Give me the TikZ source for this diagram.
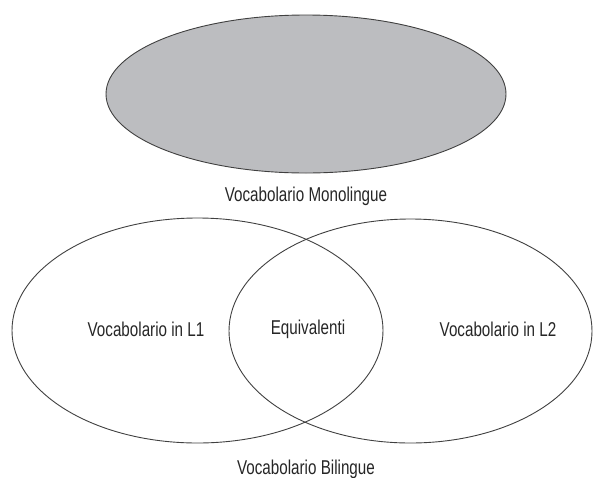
\documentclass[tikz,border=0pt]{standalone}
\usepackage{fontspec}
\setsansfont{Liberation Sans}
\usetikzlibrary{shapes.geometric, positioning}
\definecolor{monogray}{RGB}{188,189,192}

\begin{document}
\begin{tikzpicture}
	[x=1pt, y=-1pt,
	 lbl/.style={font=\sffamily\fontsize{20}{22}\selectfont, xscale=0.76, text=black!85},
	 set/.style={ellipse, draw=black!75, line width=0.9pt, inner sep=0pt}]
   \useasboundingbox (0,0) rectangle (593,477);
   \node[set, fill=monogray, minimum width=400pt, minimum height=158pt] (mono) at (306,94) {};
   \node[lbl] (mono_lbl) at (306,196) {Vocabolario Monolingue};
   \node[set, minimum width=371pt, minimum height=225pt] (set_1) at (197.5,330.5) {};
   \node[set, minimum width=363pt, minimum height=224pt] (set_2) at (410.5,331) {};
   \node[lbl] (l_1) at (146,329) {Vocabolario in L1};
   \node[lbl] (equiv) at (308,329) {Equivalenti};
   \node[lbl] (l_2) at (498,329) {Vocabolario in L2};
   \node[lbl] (bi_lbl) at (306,469) {Vocabolario Bilingue};
\end{tikzpicture}
\end{document}
